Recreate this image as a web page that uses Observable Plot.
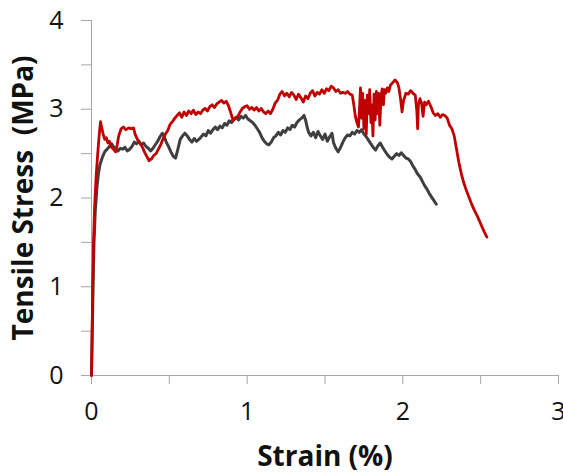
<!DOCTYPE html>
<html>
<head>
<meta charset="utf-8">
<script src="https://cdn.jsdelivr.net/npm/d3@7"></script>
<script src="https://cdn.jsdelivr.net/npm/@observablehq/plot@0.6"></script>
<style>
  html, body { margin: 0; padding: 0; background: #fff; }
</style>
</head>
<body>
<div id="chart"></div>
<script>
// Red specimen: [strain %, stress MPa]
const redSeries = [
[0,0],[0.004,0.5],[0.008,1.0],[0.013,1.5],[0.02,1.9],[0.03,2.25],[0.04,2.5],[0.05,2.72],[0.058,2.86],
[0.065,2.80],[0.075,2.72],[0.085,2.66],[0.095,2.68],[0.105,2.62],[0.115,2.64],[0.125,2.58],[0.14,2.55],
[0.155,2.52],[0.165,2.60],[0.175,2.70],[0.19,2.78],[0.205,2.80],[0.22,2.77],[0.24,2.79],[0.255,2.78],
[0.27,2.79],[0.28,2.72],[0.295,2.66],[0.31,2.62],[0.325,2.58],[0.34,2.52],[0.355,2.47],[0.37,2.42],
[0.385,2.44],[0.40,2.48],[0.415,2.50],[0.43,2.55],[0.445,2.60],[0.46,2.67],[0.475,2.72],[0.49,2.76],
[0.505,2.83],[0.52,2.86],[0.535,2.90],[0.55,2.93],[0.565,2.96],[0.58,2.91],[0.595,2.97],[0.61,2.93],
[0.625,2.98],[0.64,2.95],[0.655,2.99],[0.67,2.94],[0.685,2.97],[0.70,2.95],[0.715,2.99],[0.73,3.01],
[0.745,2.98],[0.76,3.03],[0.775,3.05],[0.79,3.02],[0.805,3.06],[0.82,3.08],[0.835,3.10],[0.85,3.07],
[0.865,3.09],[0.88,3.04],[0.895,2.96],[0.91,2.87],[0.925,2.90],[0.94,2.92],[0.955,2.97],[0.97,3.01],
[0.985,3.03],[1.0,3.04],[1.015,3.00],[1.03,3.02],[1.045,2.99],[1.06,3.02],[1.075,2.98],[1.09,3.01],
[1.105,2.97],[1.12,2.95],[1.135,2.98],[1.15,2.95],[1.165,3.00],[1.18,3.07],[1.195,3.10],[1.21,3.17],
[1.225,3.20],[1.24,3.15],[1.255,3.18],[1.27,3.14],[1.285,3.19],[1.30,3.16],[1.315,3.11],[1.33,3.17],
[1.345,3.13],[1.36,3.08],[1.375,3.15],[1.39,3.12],[1.405,3.18],[1.42,3.21],[1.435,3.15],[1.45,3.19],
[1.465,3.17],[1.48,3.22],[1.495,3.18],[1.51,3.23],[1.525,3.21],[1.54,3.26],[1.555,3.24],[1.57,3.20],
[1.585,3.22],[1.60,3.18],[1.615,3.19],[1.63,3.18],[1.645,3.20],[1.66,3.17],[1.675,3.16],[1.685,3.05],
[1.695,2.92],[1.705,2.85],[1.715,2.80],[1.72,2.95],[1.728,3.24],[1.735,2.90],[1.742,3.18],[1.75,2.78],
[1.758,3.10],[1.765,2.72],[1.772,3.16],[1.78,2.95],[1.787,3.22],[1.795,2.85],[1.80,3.05],[1.808,2.70],
[1.815,3.17],[1.822,2.88],[1.83,3.20],[1.838,2.95],[1.845,3.18],[1.852,2.82],[1.86,3.15],[1.868,3.23],
[1.875,3.05],[1.882,3.22],[1.89,3.18],[1.90,3.24],[1.91,3.20],[1.92,3.27],[1.935,3.30],[1.95,3.33],
[1.965,3.30],[1.975,3.24],[1.985,3.12],[1.995,2.97],[2.005,3.10],[2.02,3.18],[2.035,3.17],[2.05,3.21],
[2.065,3.18],[2.08,3.16],[2.09,2.98],[2.095,2.78],[2.10,3.05],[2.11,3.12],[2.12,3.07],[2.13,2.92],
[2.14,3.08],[2.15,3.05],[2.165,3.09],[2.18,3.03],[2.195,2.96],[2.21,2.93],[2.225,2.95],[2.24,2.91],
[2.255,2.94],[2.27,2.93],[2.285,2.90],[2.30,2.82],[2.315,2.78],[2.33,2.70],[2.345,2.55],[2.36,2.40],
[2.375,2.28],[2.39,2.18],[2.405,2.10],[2.42,2.03],[2.44,1.94],[2.46,1.86],[2.48,1.79],[2.50,1.71],
[2.52,1.63],[2.54,1.56]
];

// Dark grey specimen: [strain %, stress MPa]
const greySeries = [
[0,0],[0.005,0.5],[0.01,1.0],[0.016,1.5],[0.024,1.85],[0.035,2.12],[0.045,2.28],[0.055,2.38],[0.07,2.46],
[0.085,2.52],[0.10,2.55],[0.115,2.58],[0.13,2.61],[0.14,2.58],[0.155,2.55],[0.17,2.53],[0.185,2.56],
[0.20,2.55],[0.215,2.57],[0.23,2.53],[0.245,2.55],[0.26,2.58],[0.275,2.63],[0.29,2.61],[0.305,2.64],
[0.32,2.60],[0.335,2.62],[0.35,2.58],[0.365,2.56],[0.38,2.53],[0.395,2.56],[0.41,2.60],[0.425,2.64],
[0.44,2.69],[0.455,2.73],[0.465,2.70],[0.48,2.63],[0.495,2.58],[0.51,2.52],[0.525,2.47],[0.54,2.45],
[0.555,2.55],[0.57,2.66],[0.585,2.70],[0.60,2.73],[0.615,2.70],[0.63,2.66],[0.645,2.63],[0.66,2.67],
[0.675,2.64],[0.69,2.66],[0.705,2.69],[0.72,2.72],[0.735,2.70],[0.75,2.76],[0.765,2.73],[0.78,2.77],
[0.795,2.80],[0.81,2.77],[0.825,2.81],[0.84,2.79],[0.855,2.84],[0.87,2.82],[0.885,2.87],[0.90,2.85],
[0.915,2.89],[0.93,2.91],[0.945,2.88],[0.96,2.92],[0.975,2.90],[0.99,2.93],[1.005,2.89],[1.02,2.87],
[1.035,2.85],[1.05,2.82],[1.065,2.78],[1.08,2.74],[1.095,2.68],[1.11,2.64],[1.125,2.61],[1.14,2.60],
[1.155,2.63],[1.17,2.68],[1.185,2.70],[1.20,2.74],[1.215,2.71],[1.23,2.76],[1.245,2.74],[1.26,2.79],
[1.275,2.77],[1.29,2.82],[1.305,2.80],[1.32,2.85],[1.335,2.88],[1.35,2.90],[1.365,2.93],[1.375,2.88],
[1.385,2.80],[1.395,2.74],[1.41,2.70],[1.425,2.74],[1.44,2.68],[1.455,2.75],[1.47,2.70],[1.485,2.66],
[1.50,2.72],[1.515,2.64],[1.53,2.69],[1.545,2.73],[1.555,2.62],[1.57,2.56],[1.585,2.52],[1.60,2.57],
[1.615,2.63],[1.63,2.68],[1.645,2.71],[1.66,2.70],[1.675,2.74],[1.69,2.72],[1.705,2.76],[1.72,2.74],
[1.735,2.77],[1.75,2.72],[1.765,2.69],[1.78,2.65],[1.795,2.61],[1.81,2.57],[1.825,2.54],[1.84,2.59],
[1.855,2.62],[1.87,2.57],[1.885,2.53],[1.90,2.49],[1.915,2.46],[1.93,2.44],[1.945,2.47],[1.96,2.50],
[1.975,2.48],[1.99,2.51],[2.005,2.48],[2.02,2.45],[2.035,2.44],[2.05,2.41],[2.065,2.36],[2.08,2.32],
[2.095,2.27],[2.11,2.24],[2.125,2.19],[2.14,2.14],[2.155,2.10],[2.17,2.05],[2.185,2.01],[2.20,1.97],
[2.215,1.93]
];

const xTickMarks = [0, 0.5, 1, 1.5, 2, 2.5, 3];
const xTickLabels = [0, 1, 2, 3];
const yTickMarks = [0, 0.5, 1, 1.5, 2, 2.5, 3, 3.5, 4];
const yTickLabels = [0, 1, 2, 3, 4];
const xTitle = "Strain (%)";
const yTitle = "Tensile Stress\u00a0\u00a0(MPa)";

const axisGrey = "#a6a6a6";
const font = "'Open Sans', 'Noto Sans', sans-serif";

const chart = Plot.plot({
  width: 563,
  height: 473,
  marginLeft: 91,
  marginRight: 5,
  marginTop: 20,
  marginBottom: 98,
  style: { fontFamily: font, background: "#fff", overflow: "visible" },
  x: { domain: [0, 3], label: null },
  y: { domain: [0, 4], label: null },
  marks: [
    Plot.ruleX([0], { y1: 0, y2: 4, stroke: axisGrey, strokeWidth: 1 }),
    Plot.ruleY([0], { x1: 0, x2: 3, stroke: axisGrey, strokeWidth: 1 }),
    // tick marks (no text)
    Plot.axisX({ ticks: xTickMarks, tickSize: 9, stroke: axisGrey, tickFormat: () => "", label: null }),
    Plot.axisY({ ticks: yTickMarks, tickSize: 10, stroke: axisGrey, tickFormat: () => "", label: null }),
    // tick labels
    Plot.axisX({ ticks: xTickLabels, tickSize: 0, tickPadding: 27, fontSize: 25, fill: "#111", stroke: "none", tickFormat: d => String(d), label: null }),
    Plot.axisY({ ticks: yTickLabels, tickSize: 0, tickPadding: 28, fontSize: 25, fill: "#111", stroke: "none", tickFormat: d => String(d), label: null }),
    Plot.line(greySeries, { x: d => d[0], y: d => d[1], stroke: "#3f3f3f", strokeWidth: 3, strokeLinejoin: "round" }),
    Plot.line(redSeries, { x: d => d[0], y: d => d[1], stroke: "#c00000", strokeWidth: 2.8, strokeLinejoin: "round" }),
    Plot.text([xTitle], { text: d => d, frameAnchor: "bottom", dy: 90, fontSize: 28, fontWeight: "bold", fill: "#111" }),
    Plot.text([yTitle], { text: d => d, frameAnchor: "left", textAnchor: "middle", lineAnchor: "middle", dx: -67, rotate: -90, fontSize: 28, fontWeight: "bold", fill: "#111" })
  ]
});
document.getElementById("chart").appendChild(chart);
</script>
</body>
</html>
